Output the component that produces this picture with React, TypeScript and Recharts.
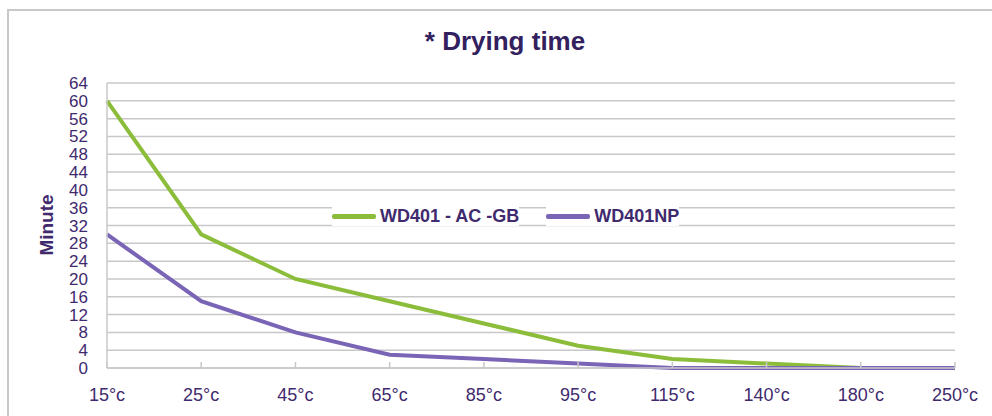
import { LineChart, Line, XAxis, YAxis, CartesianGrid } from 'recharts';

const temperatures = ['15°c', '25°c', '45°c', '65°c', '85°c', '95°c', '115°c', '140°c', '180°c', '250°c'];
const wd401AcGb = [60, 30, 20, 15, 10, 5, 2, 1, 0, 0];
const wd401Np = [30, 15, 8, 3, 2, 1, 0, 0, 0, 0];
const yTicks = [0, 4, 8, 12, 16, 20, 24, 28, 32, 36, 40, 44, 48, 52, 56, 60, 64];
const seriesNames = ['WD401 - AC -GB', 'WD401NP'];

const GREEN = '#8bbd3a';
const PURPLE = '#7a64b6';
const TEXT = '#3f2a6e';
const GRID = '#c8c8c8';
const FONT = '"Liberation Sans", Arial, sans-serif';

const data = temperatures.map((t, i) => ({
  temp: t,
  acgb: wd401AcGb[i],
  np: wd401Np[i],
}));

// x ticks: small mark pointing up into the plot, label below
function XTick(props: any) {
  const { x, y, payload } = props;
  return (
    <g>
      <line x1={x} x2={x} y1={y - 6} y2={y} stroke={GRID} strokeWidth={1.5} />
      <text x={x} y={y + 33} textAnchor="middle" fill={TEXT} fontSize={18} fontFamily={FONT}>
        {payload.value}
      </text>
    </g>
  );
}

function ChartLegend() {
  const colors = [GREEN, PURPLE];
  return (
    <div
      style={{
        position: 'absolute',
        top: 206,
        left: 332,
        display: 'flex',
        alignItems: 'center',
        fontFamily: FONT,
      }}
    >
      {seriesNames.map((name, i) => (
        <div key={name} style={{ display: 'flex', alignItems: 'center', marginRight: 27, background: '#fff' }}>
          <div style={{ width: 44, height: 5, borderRadius: 2, background: colors[i], marginRight: 4 }} />
          <span style={{ fontWeight: 'bold', fontSize: 18, color: TEXT, lineHeight: '20px' }}>{name}</span>
        </div>
      ))}
    </div>
  );
}

export default function App() {
  return (
    <div style={{ position: 'absolute', left: 0, top: 0, width: 992, height: 416, background: '#fff', overflow: 'hidden' }}>
      <div
        style={{
          position: 'absolute',
          left: 7,
          top: 9,
          width: 1000,
          height: 420,
          borderTop: `2px solid ${GRID}`,
          borderLeft: `2px solid ${GRID}`,
        }}
      />
      <div
        style={{
          position: 'absolute',
          top: 26,
          left: 0,
          width: 1010,
          textAlign: 'center',
          fontFamily: FONT,
          fontWeight: 'bold',
          fontSize: 26,
          color: '#33215f',
        }}
      >
        * Drying time
      </div>
      <div
        style={{
          position: 'absolute',
          left: 47,
          top: 225,
          transform: 'translate(-50%, -50%) rotate(-90deg)',
          fontFamily: FONT,
          fontWeight: 'bold',
          fontSize: 19,
          color: TEXT,
        }}
      >
        Minute
      </div>
      <div style={{ position: 'absolute', left: 0, top: 0 }}>
        <LineChart width={992} height={416} data={data} margin={{ top: 83, right: 37, bottom: 0, left: 47 }}>
          <CartesianGrid vertical={false} stroke={GRID} strokeWidth={1.5} />
          <XAxis
            dataKey="temp"
            tick={<XTick />}
            tickLine={false}
            tickSize={0}
            tickMargin={0}
            height={48}
            axisLine={{ stroke: GRID, strokeWidth: 1.5 }}
            interval={0}
          />
          <YAxis
            width={60}
            domain={[0, 64]}
            ticks={yTicks}
            interval={0}
            tickLine={false}
            tickSize={0}
            tickMargin={19}
            axisLine={{ stroke: GRID, strokeWidth: 1.5 }}
            tick={{ fill: TEXT, fontSize: 17, fontFamily: FONT }}
          />
          <Line
            name={seriesNames[0]}
            dataKey="acgb"
            stroke={GREEN}
            strokeWidth={4}
            dot={false}
            type="linear"
            isAnimationActive={false}
          />
          <Line
            name={seriesNames[1]}
            dataKey="np"
            stroke={PURPLE}
            strokeWidth={4}
            dot={false}
            type="linear"
            isAnimationActive={false}
          />
        </LineChart>
      </div>
      <ChartLegend />
    </div>
  );
}
